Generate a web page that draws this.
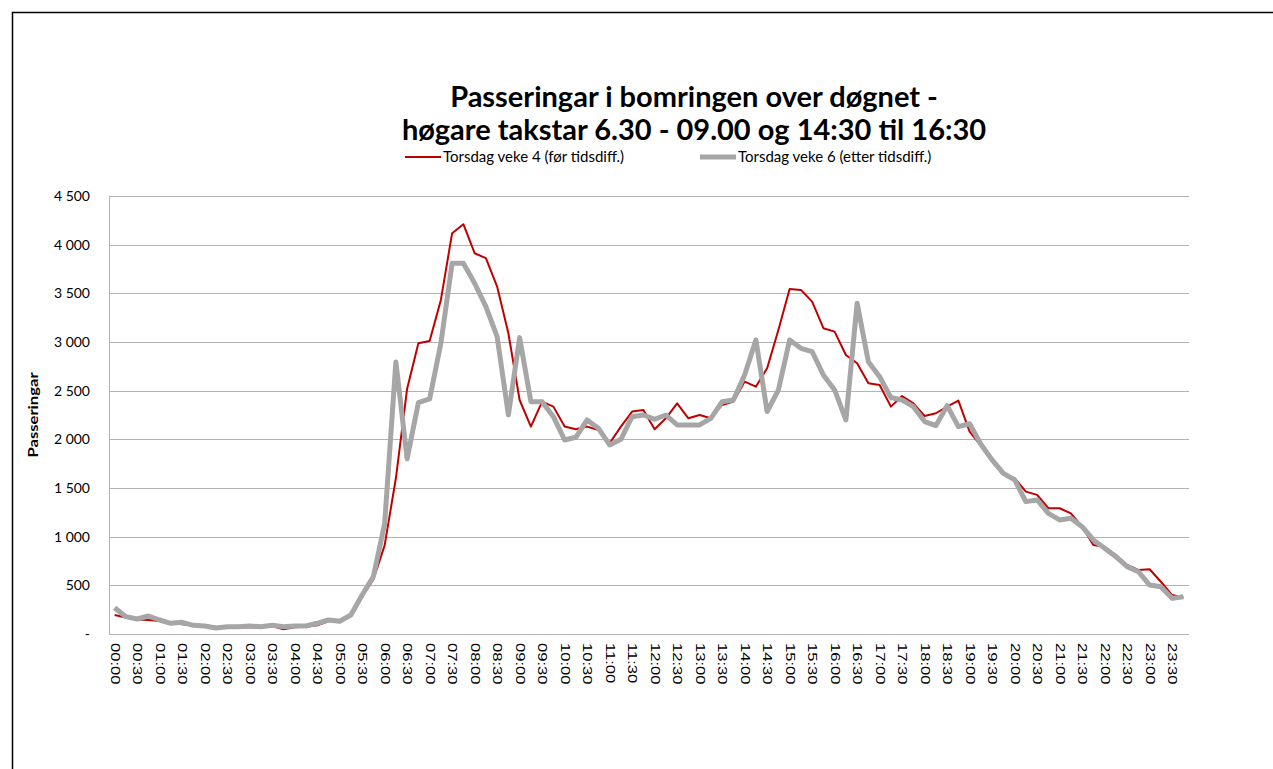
<!DOCTYPE html>
<html>
<head>
<meta charset="utf-8">
<script src="https://cdn.jsdelivr.net/npm/d3@7"></script>
<style>
  body { margin: 0; background: #fff; }
</style>
</head>
<body>
<div id="chart"></div>
<script>
// 15 minute slots through the day
let times = d3.range(96).map(i => {
  let h = Math.floor(i / 4);
  let m = (i % 4) * 15;
  return (h < 10 ? '0' : '') + h + ':' + (m < 10 ? '0' : '') + m;
});

let series_names = ['Torsdag veke 4 (før tidsdiff.)', 'Torsdag veke 6 (etter tidsdiff.)'];

let veke4 = [
  195, 170, 150, 144, 133, 110, 100, 86, 89, 75, 69, 69,
  69, 69, 82, 48, 69, 75, 89, 130, 144, 205, 383, 560,
  910, 1600, 2520, 2987, 3011, 3432, 4118, 4210, 3912, 3861, 3570, 3090,
  2404, 2131, 2387, 2336, 2131, 2103, 2131, 2096, 1960, 2131, 2285, 2302,
  2103, 2216, 2370, 2216, 2250, 2216, 2353, 2387, 2593, 2541, 2730, 3124,
  3545, 3535, 3415, 3142, 3107, 2867, 2781, 2576, 2558, 2336, 2445, 2370,
  2240, 2268, 2336, 2398, 2080, 1935, 1770, 1640, 1600, 1463, 1429, 1292,
  1292, 1240, 1103, 915, 897, 812, 709, 658, 665, 537, 400, 375
];

let veke6 = [
  270, 178, 154, 185, 144, 110, 120, 89, 82, 62, 75, 75,
  82, 75, 89, 75, 82, 82, 110, 144, 130, 195, 400, 590,
  1130, 2795, 1800, 2377, 2415, 2987, 3810, 3810, 3604, 3364, 3055, 2250,
  3045, 2387, 2387, 2233, 1993, 2021, 2199, 2114, 1942, 2000, 2233, 2250,
  2206, 2250, 2148, 2148, 2148, 2216, 2387, 2404, 2661, 3021, 2285, 2507,
  3021, 2935, 2901, 2661, 2507, 2199, 3398, 2798, 2644, 2430, 2404, 2336,
  2182, 2141, 2346, 2131, 2160, 1950, 1788, 1650, 1583, 1360, 1377, 1240,
  1172, 1189, 1103, 966, 881, 794, 692, 640, 503, 486, 366, 383
];

let y_ticks = [0, 500, 1000, 1500, 2000, 2500, 3000, 3500, 4000, 4500];
// every other slot gets a label
let x_ticks = times.filter((t, i) => i % 2 === 0);

let chart_width = 1273;
let chart_height = 769;
let plot_left = 109, plot_right = 1189, plot_top = 196, plot_bottom = 634;

let svg = d3
  .select('#chart')
  .append('svg')
  .attr('width', chart_width)
  .attr('height', chart_height);

// outer frame
svg
  .append('rect')
  .attr('x', 12.5)
  .attr('y', 12.5)
  .attr('width', chart_width)
  .attr('height', chart_height)
  .attr('fill', 'none')
  .attr('stroke', '#000')
  .attr('stroke-width', 1.5);

let x_scale = d3
  .scalePoint()
  .domain(times)
  .range([plot_left, plot_right])
  .padding(0.5);

let y_scale = d3
  .scaleLinear()
  .domain([0, 4500])
  .range([plot_bottom, plot_top]);

//gridlines
svg
  .append('g')
  .selectAll('line')
  .data(y_ticks.slice(1))
  .enter()
  .append('line')
  .attr('x1', plot_left)
  .attr('x2', plot_right)
  .attr('y1', d => Math.round(y_scale(d)) + 0.5)
  .attr('y2', d => Math.round(y_scale(d)) + 0.5)
  .attr('stroke', '#b3b3b3')
  .attr('stroke-width', 1);

//y axis
let y_axis = d3
  .axisLeft(y_scale)
  .tickValues(y_ticks)
  .tickSize(0)
  .tickPadding(19)
  .tickFormat(d => (d === 0 ? '-' : d3.format(',')(d).replace(',', ' ')));

let gy = svg
  .append('g')
  .attr('class', 'y-axis')
  .attr('transform', 'translate(' + plot_left + ',0)')
  .call(y_axis);
gy.select('.domain').attr('stroke', '#b3b3b3').attr('d', 'M0.5,' + plot_top + 'V' + plot_bottom);
gy.selectAll('text')
  .attr('font-family', 'Lato, "Open Sans", sans-serif')
  .attr('font-size', 14)
  .attr('fill', '#000');

//x axis
let x_axis = d3
  .axisBottom(x_scale)
  .tickValues(x_ticks)
  .tickSize(0);

let gx = svg
  .append('g')
  .attr('class', 'x-axis')
  .attr('transform', 'translate(0,' + plot_bottom + ')')
  .call(x_axis);
gx.select('.domain').attr('stroke', '#b3b3b3').attr('d', 'M' + plot_left + ',0.5H' + plot_right);
// labels read top to bottom and are drawn a bit stretched along their length
gx.selectAll('text')
  .attr('font-family', '"Liberation Sans", Arial, sans-serif')
  .attr('font-size', 12.5)
  .attr('fill', '#000')
  .attr('text-anchor', 'start')
  .attr('dy', '0.35em')
  .attr('y', 0)
  .attr('x', 0)
  .attr('transform', 'translate(0,9) rotate(90) scale(1.33,1)');

//lines
let line = d3
  .line()
  .x((d, i) => x_scale(times[i]))
  .y(d => y_scale(d));

svg
  .append('path')
  .datum(veke4)
  .attr('d', line)
  .attr('fill', 'none')
  .attr('stroke', '#c00000')
  .attr('stroke-width', 2)
  .attr('stroke-linejoin', 'round');

svg
  .append('path')
  .datum(veke6)
  .attr('d', line)
  .attr('fill', 'none')
  .attr('stroke', '#a6a6a6')
  .attr('stroke-width', 5)
  .attr('stroke-linejoin', 'round');

//title
let title = svg
  .append('text')
  .attr('text-anchor', 'middle')
  .attr('font-family', 'Lato, "Open Sans", sans-serif')
  .attr('font-weight', 'bold')
  .attr('font-size', 29)
  .attr('fill', '#000');
title.append('tspan').attr('x', 694).attr('y', 107).text('Passeringar i bomringen over døgnet -');
title.append('tspan').attr('x', 694).attr('y', 140).text('høgare takstar 6.30 - 09.00 og 14:30 til 16:30');

//legend
let legend = svg
  .append('g')
  .selectAll('g')
  .data(series_names)
  .enter()
  .append('g')
  .attr('transform', (d, i) => 'translate(' + (405 + i * 295) + ',157)');

legend
  .append('line')
  .attr('x1', 0)
  .attr('x2', 36)
  .attr('stroke', (d, i) => (i === 0 ? '#c00000' : '#a6a6a6'))
  .attr('stroke-width', (d, i) => (i === 0 ? 2 : 5));

legend
  .append('text')
  .attr('x', 38)
  .attr('dy', '0.35em')
  .attr('font-family', 'Lato, "Open Sans", sans-serif')
  .attr('font-size', 15)
  .text(d => d);

//y axis title
svg
  .append('text')
  .attr('transform', 'translate(38,' + (plot_top + plot_bottom) / 2 + ') rotate(-90) scale(1.28,1)')
  .attr('text-anchor', 'middle')
  .attr('font-family', 'Lato, "Open Sans", sans-serif')
  .attr('font-weight', 'bold')
  .attr('font-size', 13)
  .text('Passeringar');
</script>
</body>
</html>
